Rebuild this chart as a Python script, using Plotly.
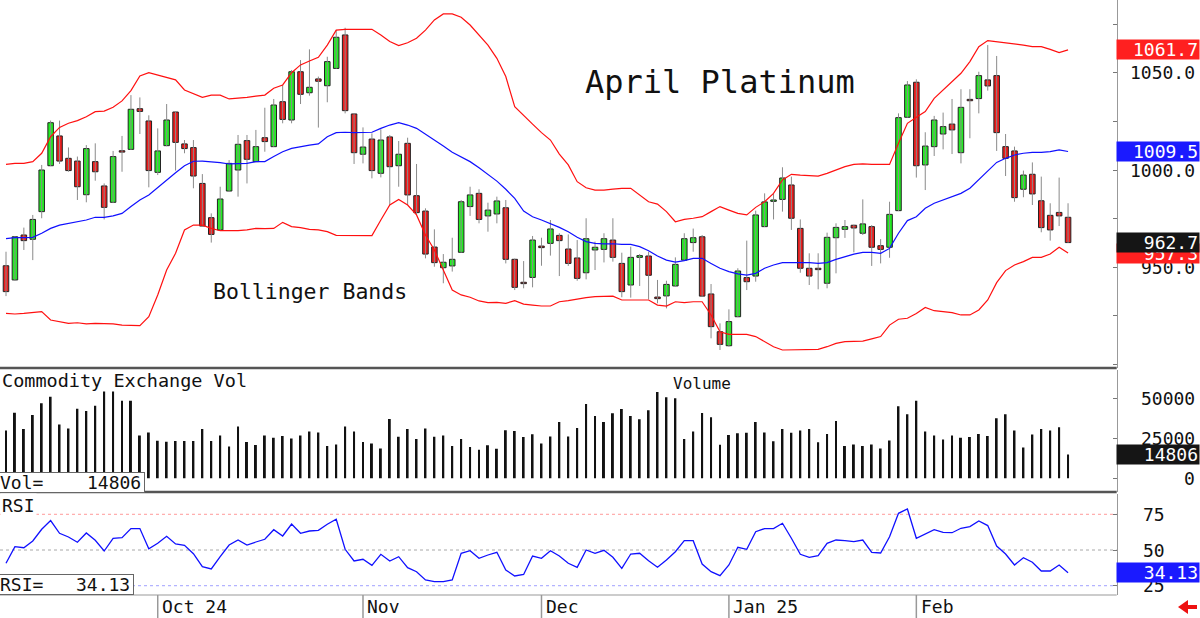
import numpy as np
import pandas as pd
import plotly.graph_objects as go

# ---------------- data ----------------
HOLIDAYS = ["2024-11-28", "2024-12-25", "2025-01-01", "2025-01-20", "2025-02-17"]
DATES = [d for d in pd.bdate_range("2024-09-06", "2025-02-27")
         if d.strftime("%Y-%m-%d") not in HOLIDAYS]
MONTH_TEXT = {"2024-10": "Oct 24", "2024-11": "Nov", "2024-12": "Dec",
              "2025-01": "Jan 25", "2025-02": "Feb"}

OPEN = [950.8, 943.5, 966.6, 964.4, 978.6, 1002.2, 1017.5, 1006.0, 1004.6, 987.3,
        1004.3, 991.8, 983.4, 1009.4, 1010.6, 1031.5, 1025.2, 998.8, 1012.5, 1029.8,
        1013.4, 1011.5, 993.1, 975.5, 969.2, 989.2, 1000.0, 1015.1, 1004.3, 1016.6,
        1012.0, 1035.1, 1025.7, 1050.5, 1039.7, 1046.8, 1043.3, 1052.2, 1069.4, 1028.8,
        1008.1, 1015.9, 998.3, 1017.0, 1002.2, 1013.7, 986.8, 978.9, 960.4, 949.8,
        950.7, 957.7, 981.2, 988.0, 976.4, 977.4, 980.6, 954.1, 941.9, 944.8,
        960.9, 962.3, 966.4, 959.4, 954.8, 947.2, 958.9, 959.2, 964.0, 952.0,
        940.9, 955.1, 955.8, 934.7, 935.3, 940.4, 953.7, 962.7, 965.7, 936.3,
        916.9, 909.7, 924.6, 944.7, 945.5, 970.9, 983.9, 984.9, 992.3, 970.0,
        949.5, 949.1, 941.8, 965.2, 969.5, 971.6, 967.5, 970.9, 961.1, 960.3,
        979.1, 1027.1, 1045.1, 1002.6, 1012.0, 1018.5, 1023.6, 1008.9, 1036.0, 1036.7,
        1046.3, 1048.5, 1012.0, 1009.8, 990.1, 997.8, 984.2, 976.7, 978.2, 975.7]
HIGH = [958.0, 966.0, 970.4, 976.9, 1002.6, 1025.4, 1025.4, 1011.6, 1006.9, 1012.8,
        1013.7, 993.1, 1009.8, 1017.5, 1038.5, 1037.3, 1028.1, 1021.4, 1033.9, 1030.0,
        1015.4, 1015.4, 997.9, 977.7, 991.4, 1005.1, 1018.0, 1018.0, 1020.6, 1032.0,
        1036.5, 1043.7, 1051.4, 1056.5, 1062.0, 1048.0, 1058.2, 1071.9, 1073.1, 1029.0,
        1021.9, 1018.8, 1020.9, 1018.0, 1014.9, 1016.6, 1003.1, 980.3, 969.5, 956.8,
        965.2, 984.6, 991.4, 990.1, 983.2, 986.3, 984.6, 954.5, 953.2, 966.1,
        965.2, 974.3, 967.5, 966.9, 964.0, 975.2, 963.2, 967.5, 975.2, 957.5,
        960.6, 956.8, 958.0, 943.5, 943.1, 955.1, 967.5, 969.9, 966.6, 941.4,
        921.2, 928.4, 949.5, 963.7, 979.1, 988.0, 988.0, 1001.4, 996.6, 974.6,
        957.2, 957.2, 967.8, 972.6, 974.3, 971.9, 984.9, 971.7, 964.5, 983.7,
        1029.1, 1045.7, 1046.6, 1019.4, 1027.8, 1029.5, 1036.5, 1041.5, 1041.5, 1050.5,
        1064.2, 1058.6, 1018.5, 1012.0, 999.7, 1003.9, 996.6, 982.9, 996.1, 982.9]
LOW = [935.2, 943.0, 958.9, 953.7, 975.2, 1002.0, 1003.1, 999.1, 984.6, 983.4,
       994.5, 974.6, 983.0, 999.1, 1010.3, 1018.5, 991.1, 997.4, 1012.2, 999.7,
       1008.6, 990.6, 970.9, 962.7, 969.0, 989.0, 986.3, 993.1, 1004.0, 1009.4,
       1011.8, 1024.0, 1024.0, 1033.9, 1038.2, 1021.8, 1034.8, 1052.0, 1029.1, 1003.1,
       1003.4, 995.7, 996.2, 982.0, 991.4, 982.0, 977.0, 954.6, 950.3, 941.8,
       947.8, 957.5, 976.4, 972.6, 968.3, 972.6, 952.0, 938.3, 939.2, 939.7,
       950.8, 956.0, 945.5, 950.7, 943.1, 943.8, 948.6, 952.5, 952.9, 934.6,
       934.4, 940.4, 933.5, 931.5, 928.9, 940.2, 953.5, 958.0, 935.0, 913.5,
       907.5, 909.2, 924.4, 938.3, 942.6, 970.7, 974.6, 978.6, 969.2, 947.2,
       940.9, 938.7, 939.2, 946.9, 965.1, 957.7, 966.6, 950.7, 952.0, 954.9,
       978.9, 1026.9, 996.1, 989.7, 1007.2, 1010.6, 1008.2, 1003.4, 1016.3, 1029.1,
       1040.8, 1009.8, 996.9, 983.7, 986.0, 982.0, 968.0, 963.7, 971.2, 962.5]
CLOSE = [937.5, 965.7, 963.7, 974.6, 1000.0, 1024.3, 1004.6, 999.7, 991.4, 1011.0,
         999.1, 980.8, 1006.9, 1009.2, 1031.2, 1030.1, 999.7, 1009.8, 1025.7, 1014.2,
         1011.0, 996.9, 971.2, 966.9, 985.1, 1003.4, 1013.2, 1005.5, 1012.0, 1014.6,
         1033.4, 1026.0, 1050.5, 1038.9, 1042.5, 1045.6, 1055.7, 1068.2, 1030.5, 1008.9,
         1011.8, 999.7, 1015.4, 1001.7, 1008.1, 987.2, 978.1, 956.8, 952.4, 952.6,
         954.1, 983.7, 987.2, 974.6, 979.4, 984.1, 954.1, 939.7, 941.6, 964.0,
         960.1, 969.7, 963.7, 952.0, 944.3, 964.7, 960.3, 964.7, 955.1, 937.5,
         955.1, 956.0, 945.9, 933.9, 941.2, 951.5, 964.7, 965.2, 935.2, 919.5,
         910.4, 922.1, 948.1, 942.6, 976.9, 983.6, 984.2, 995.9, 975.2, 949.5,
         945.5, 948.8, 965.4, 970.5, 970.9, 970.2, 972.3, 960.3, 959.2, 977.2,
         1026.9, 1043.7, 1002.2, 1012.3, 1025.7, 1022.3, 1020.6, 1032.2, 1035.6, 1048.5,
         1043.2, 1019.2, 1006.0, 985.8, 997.4, 987.7, 970.4, 969.2, 976.4, 962.7]

BB_UPPER = [1002.9, 1003.4, 1003.4, 1004.3, 1008.6, 1017.1, 1021.9, 1024.0, 1025.4, 1027.4,
            1030.0, 1030.3, 1032.2, 1035.5, 1040.8, 1048.3, 1050.0, 1048.8, 1047.5, 1046.3,
            1041.1, 1039.1, 1037.3, 1038.5, 1038.5, 1036.5, 1036.8, 1037.3, 1038.0, 1038.5,
            1042.0, 1043.7, 1050.0, 1054.0, 1056.0, 1057.9, 1064.2, 1071.9, 1072.3, 1072.3,
            1072.3, 1072.3, 1069.4, 1066.0, 1063.9, 1065.4, 1067.7, 1071.9, 1077.1, 1080.2,
            1080.2, 1078.5, 1074.5, 1069.4, 1064.2, 1057.4, 1048.0, 1032.5, 1028.3, 1023.6,
            1019.2, 1015.4, 1008.2, 1002.6, 994.0, 990.9, 989.7, 989.7, 990.2, 990.6,
            990.6, 987.2, 983.7, 982.5, 978.6, 973.4, 974.6, 975.2, 976.0, 978.6,
            981.2, 979.4, 977.7, 976.9, 980.8, 983.7, 988.0, 994.9, 997.8, 997.4,
            997.1, 996.9, 998.3, 1000.0, 1001.7, 1002.9, 1003.1, 1002.9, 1002.9, 1002.9,
            1013.7, 1024.0, 1027.1, 1030.0, 1036.8, 1041.1, 1045.4, 1049.7, 1055.7, 1063.4,
            1066.5, 1066.0, 1065.4, 1064.8, 1064.2, 1063.4, 1063.4, 1062.0, 1060.3, 1061.7]
BB_MID = [964.7, 965.2, 965.2, 965.4, 967.5, 970.0, 971.7, 972.6, 973.4, 974.3,
          975.7, 975.7, 976.4, 977.7, 981.2, 984.6, 987.2, 991.1, 995.2, 998.6,
          1002.2, 1004.5, 1004.6, 1004.3, 1003.8, 1003.1, 1003.1, 1003.4, 1004.3, 1004.3,
          1006.9, 1009.4, 1011.1, 1012.0, 1012.8, 1013.4, 1017.1, 1019.2, 1019.4, 1019.2,
          1019.2, 1019.4, 1021.4, 1023.1, 1024.3, 1023.1, 1021.4, 1018.5, 1015.4, 1012.3,
          1009.1, 1006.9, 1004.3, 1001.2, 997.8, 994.3, 990.1, 985.4, 978.9, 976.0,
          974.3, 972.6, 970.5, 968.3, 965.4, 963.2, 962.3, 962.0, 962.1, 961.8,
          961.8, 960.6, 958.5, 955.8, 953.7, 952.7, 953.4, 954.6, 954.6, 952.0,
          949.5, 947.8, 946.6, 946.0, 946.9, 949.5, 951.2, 952.4, 952.5, 952.4,
          952.4, 952.0, 952.4, 954.1, 955.5, 956.8, 957.7, 957.7, 957.2, 959.7,
          967.5, 974.0, 976.0, 980.3, 982.9, 984.6, 986.3, 988.0, 990.6, 994.9,
          999.7, 1003.9, 1006.0, 1007.7, 1008.6, 1009.1, 1009.1, 1009.4, 1010.3, 1009.5]
BB_LOWER = [926.3, 926.0, 926.3, 926.7, 927.2, 922.9, 922.1, 921.2, 921.5, 920.9,
            921.2, 921.2, 920.9, 920.3, 920.0, 920.0, 924.6, 935.8, 948.6, 957.2,
            969.2, 971.7, 971.7, 970.0, 968.8, 968.7, 968.8, 969.2, 970.0, 969.9,
            970.0, 973.1, 970.9, 970.4, 969.5, 969.2, 968.3, 966.4, 966.3, 966.3,
            966.3, 966.3, 974.3, 982.0, 984.9, 982.0, 976.9, 966.6, 958.9, 948.6,
            938.3, 935.8, 934.6, 932.7, 931.8, 932.0, 931.5, 932.9, 931.1, 930.6,
            930.1, 930.1, 932.3, 932.9, 933.7, 934.4, 934.9, 935.2, 935.2, 933.2,
            933.2, 933.2, 933.2, 930.6, 930.1, 932.3, 931.8, 932.3, 932.3, 925.5,
            916.9, 915.5, 915.5, 915.5, 914.4, 911.8, 909.2, 907.5, 907.5, 907.8,
            907.5, 907.8, 909.2, 910.9, 911.8, 912.1, 912.1, 913.2, 914.4, 920.3,
            923.3, 923.8, 926.3, 929.4, 927.7, 927.2, 926.7, 925.5, 925.5, 928.1,
            933.2, 942.1, 948.3, 951.2, 952.9, 955.1, 955.1, 956.8, 960.3, 957.3]

VOLUME = [29800, 41000, 30800, 39600, 46900, 51000, 33700, 31200, 43500, 42100,
          45400, 54200, 54200, 48500, 48500, 26700, 28700, 23500, 22900, 23300,
          23300, 23300, 30800, 23300, 26700, 19800, 32300, 22700, 20800, 26700,
          25400, 26500, 24800, 26700, 29200, 28700, 20200, 21200, 32300, 29200,
          22700, 21700, 18700, 37100, 26000, 30800, 24600, 31200, 26000, 26700,
          20200, 24600, 19600, 17900, 20600, 18500, 30000, 29600, 25800, 27500,
          21700, 26200, 35200, 26200, 31500, 46400, 39000, 35200, 40600, 43300,
          39000, 36900, 42500, 54000, 50600, 50000, 24600, 29200, 40800, 38100,
          21000, 27100, 28100, 28500, 35200, 28700, 23100, 30800, 28500, 29800,
          30800, 22500, 27700, 35800, 20200, 21200, 20200, 21200, 18700, 23700,
          45000, 40000, 48500, 29200, 26700, 24200, 26700, 25400, 25800, 27700,
          26500, 37500, 40000, 29800, 19200, 27300, 30800, 29800, 31900, 14806]

RSI = [40.7, 52.3, 51.6, 56.3, 64.5, 70.6, 61.7, 59.1, 55.4, 61.9,
       56.8, 49.3, 58.2, 58.6, 65.0, 65.0, 50.9, 54.7, 59.6, 54.2,
       53.3, 47.4, 38.3, 36.7, 45.3, 53.5, 57.0, 53.5, 55.6, 57.5,
       64.2, 59.8, 68.2, 61.7, 63.3, 63.8, 68.0, 71.5, 50.5, 42.3,
       43.5, 39.3, 47.0, 42.3, 45.3, 37.6, 34.8, 29.0, 27.8, 27.8,
       29.0, 47.7, 49.5, 44.2, 46.5, 48.4, 36.0, 31.8, 32.9, 45.8,
       44.2, 49.5, 45.8, 40.7, 37.9, 50.0, 47.7, 49.8, 44.9, 37.2,
       47.2, 47.7, 42.5, 37.9, 43.0, 48.8, 56.5, 56.5, 40.2, 34.8,
       32.0, 39.5, 51.9, 50.5, 62.8, 65.0, 65.0, 68.7, 58.2, 47.0,
       44.9, 46.0, 54.7, 57.0, 56.5, 55.8, 57.0, 48.4, 47.9, 59.3,
       75.7, 78.7, 58.2, 61.2, 64.2, 62.4, 62.1, 65.2, 66.4, 70.3,
       67.1, 52.8, 47.2, 39.5, 44.6, 41.4, 35.3, 35.3, 39.5, 34.13]

PRICE_TICKS = [950, 1000, 1050]
VOL_TICKS = [0, 25000, 50000]
RSI_LEVELS = [75, 50, 25]

# ---------------- figure ----------------
W, H = 1200, 618
MONO = "DejaVu Sans Mono"
n = len(CLOSE)
idx = np.arange(n)
o, h, l, c = map(np.array, (OPEN, HIGH, LOW, CLOSE))

XR = 1116.7 / W
fig = go.Figure()

# wicks
wx, wy = [], []
for i in range(n):
    wx += [i, i, None]
    wy += [l[i], h[i], None]
fig.add_trace(go.Scatter(x=wx, y=wy, mode="lines", line=dict(color="#8a8a8a", width=1),
                         yaxis="y", hoverinfo="skip"))

# bands
fig.add_trace(go.Scatter(x=idx, y=BB_UPPER, mode="lines", line=dict(color="#ff1010", width=1.2), yaxis="y"))
fig.add_trace(go.Scatter(x=idx, y=BB_LOWER, mode="lines", line=dict(color="#ff1010", width=1.2), yaxis="y"))
fig.add_trace(go.Scatter(x=idx, y=BB_MID, mode="lines", line=dict(color="#1010ff", width=1.2), yaxis="y"))

# bodies
up = c >= o
base = np.minimum(o, c)
hgt = np.maximum(np.abs(c - o), 0.7)
for mask, col in ((up, "#22ee22"), (~up, "#ee1c1c")):
    fig.add_trace(go.Bar(x=idx[mask], y=hgt[mask], base=base[mask], width=0.62,
                         marker=dict(color=col, line=dict(color="#222", width=1)), yaxis="y"))

# volume
fig.add_trace(go.Bar(x=idx, y=VOLUME, width=0.22, marker=dict(color="#111", line=dict(width=0)),
                     yaxis="y2"))

# RSI
fig.add_trace(go.Scatter(x=idx, y=RSI, mode="lines", line=dict(color="#1010ff", width=1.3), yaxis="y3"))

ax_common = dict(showgrid=False, zeroline=False, showline=True, linecolor="#999", linewidth=1,
                 side="right", anchor="x", ticks="inside", ticklen=4, tickcolor="#777",
                 showticklabels=False, fixedrange=True)

fig.update_layout(
    width=W, height=H, margin=dict(l=0, r=0, t=0, b=0),
    paper_bgcolor="white", plot_bgcolor="white", showlegend=False, barmode="overlay",
    xaxis=dict(domain=[0, XR], range=[-0.672, 124.45], showgrid=False, zeroline=False,
               showticklabels=False, showline=False, ticks="", anchor="y3"),
    yaxis=dict(domain=[1 - 368 / H, 1], range=[898.25, 1087.36],
               tickvals=[900, 925, 950, 975, 1000, 1025, 1050, 1075], **ax_common),
    yaxis2=dict(domain=[1 - 492 / H, 1 - 370 / H], range=[-8560, 67690],
                tickvals=VOL_TICKS, **ax_common),
    yaxis3=dict(domain=[1 - 595 / H, 1 - 494 / H], range=[18.5, 89.2],
                tickvals=RSI_LEVELS, **ax_common),
)

shapes = []
# panel separators
for ref, col, wdt in (("y domain", "#555", 2.5), ("y2 domain", "#555", 2.5), ("y3 domain", "#999", 1)):
    shapes.append(dict(type="line", xref="paper", yref=ref, x0=0, x1=XR, y0=0, y1=0,
                       line=dict(color=col, width=wdt)))
# RSI reference levels
for lev, col in zip(RSI_LEVELS, ["#ff9a9a", "#a8a8a8", "#a0a0ff"]):
    shapes.append(dict(type="line", xref="paper", yref="y3", x0=0, x1=XR, y0=lev, y1=lev,
                       line=dict(color=col, width=1, dash="dot"), layer="below"))

# month ticks
ann = []
months = [d.strftime("%Y-%m") for d in DATES]
for key, txt in MONTH_TEXT.items():
    i0 = months.index(key)
    shapes.append(dict(type="line", xref="x", yref="paper", x0=i0, x1=i0, y0=0, y1=1 - 595 / H,
                       line=dict(color="#999", width=1.5)))
    ann.append(dict(x=i0 + 0.25, xref="x", y=1 - 606 / H, yref="paper", text=txt, showarrow=False,
                    xanchor="left", yanchor="middle", font=dict(family=MONO, size=18, color="#111")))

# red scroll arrow at bottom right (small shaft + head)
shapes.append(dict(type="line", xref="paper", yref="paper", x0=1186 / W, x1=1197 / W,
                   y0=1 - 607 / H, y1=1 - 607 / H, line=dict(color="#ee1111", width=4)))
shapes.append(dict(type="path", xref="paper", yref="paper",
                   path=f"M {1178 / W} {1 - 607 / H} L {1188 / W} {1 - 600 / H} L {1188 / W} {1 - 614 / H} Z",
                   fillcolor="#ee1111", line=dict(width=0)))
fig.update_layout(shapes=shapes)


def txt(text, x, y, size, xanchor="left", yref="paper", **kw):
    d = dict(x=x, y=y, xref="paper", yref=yref, text=text, showarrow=False, xanchor=xanchor,
             yanchor="middle", font=dict(family=MONO, size=size, color=kw.pop("color", "#111")))
    d.update(kw)
    return d


ann.append(txt("April Platinum", 720 / W, 1 - 82 / H, 32, "center"))
ann.append(txt("Bollinger Bands", 310 / W, 1 - 291 / H, 21.5, "center"))
ann.append(txt("Commodity Exchange Vol", 0, 1 - 381 / H, 18.5))
ann.append(txt("Volume", 702 / W, 1 - 384 / H, 16, "center"))
ann.append(txt("RSI", 0, 1 - 505 / H, 18, bgcolor="white"))

# value boxes bottom-left
ann.append(txt("Vol=", -2 / W, 1 - 482.5 / H, 18, width=143, height=17, align="left",
               bgcolor="white", bordercolor="#666", borderwidth=1, borderpad=1))
ann.append(txt(f"{VOLUME[-1]}", 143 / W, 1 - 482.5 / H, 18, "right"))
ann.append(txt("RSI=", -2 / W, 1 - 584.5 / H, 18, width=132, height=17, align="left",
               bgcolor="white", bordercolor="#666", borderwidth=1, borderpad=1))
ann.append(txt(f"{RSI[-1]:.2f}", 132 / W, 1 - 584.5 / H, 18, "right"))

# right axis labels
RX = 1197 / W
for v in PRICE_TICKS:
    ann.append(txt(f"{v:.1f}", RX, v, 18, "right", yref="y"))
for v in VOL_TICKS:
    ann.append(txt(f"{v}", RX, v, 18, "right", yref="y2"))
for v in RSI_LEVELS:
    ann.append(txt(f"{v}", 1141 / W, v, 18, "left", yref="y3"))


def box(val, yref, bg, fmt):
    return dict(x=1.0, y=val, xref="paper", yref=yref, text=fmt.format(val), showarrow=False,
                xanchor="right", yanchor="middle", width=80, height=17, align="right",
                bgcolor=bg, borderpad=1, font=dict(family=MONO, size=18, color="white"))


ann.append(box(BB_UPPER[-1], "y", "#ff2020", "{:.1f}"))
ann.append(box(BB_MID[-1], "y", "#1a1aff", "{:.1f}"))
ann.append(box(BB_LOWER[-1], "y", "#ff2020", "{:.1f}"))
ann.append(box(CLOSE[-1], "y", "#151515", "{:.1f}"))
ann.append(box(VOLUME[-1], "y2", "#151515", "{}"))
ann.append(box(RSI[-1], "y3", "#1a1aff", "{:.2f}"))

fig.update_layout(annotations=ann)
fig.write_html("out.html", config={"displayModeBar": False},
               post_script="document.body.style.margin='0';document.body.style.overflow='hidden';")
